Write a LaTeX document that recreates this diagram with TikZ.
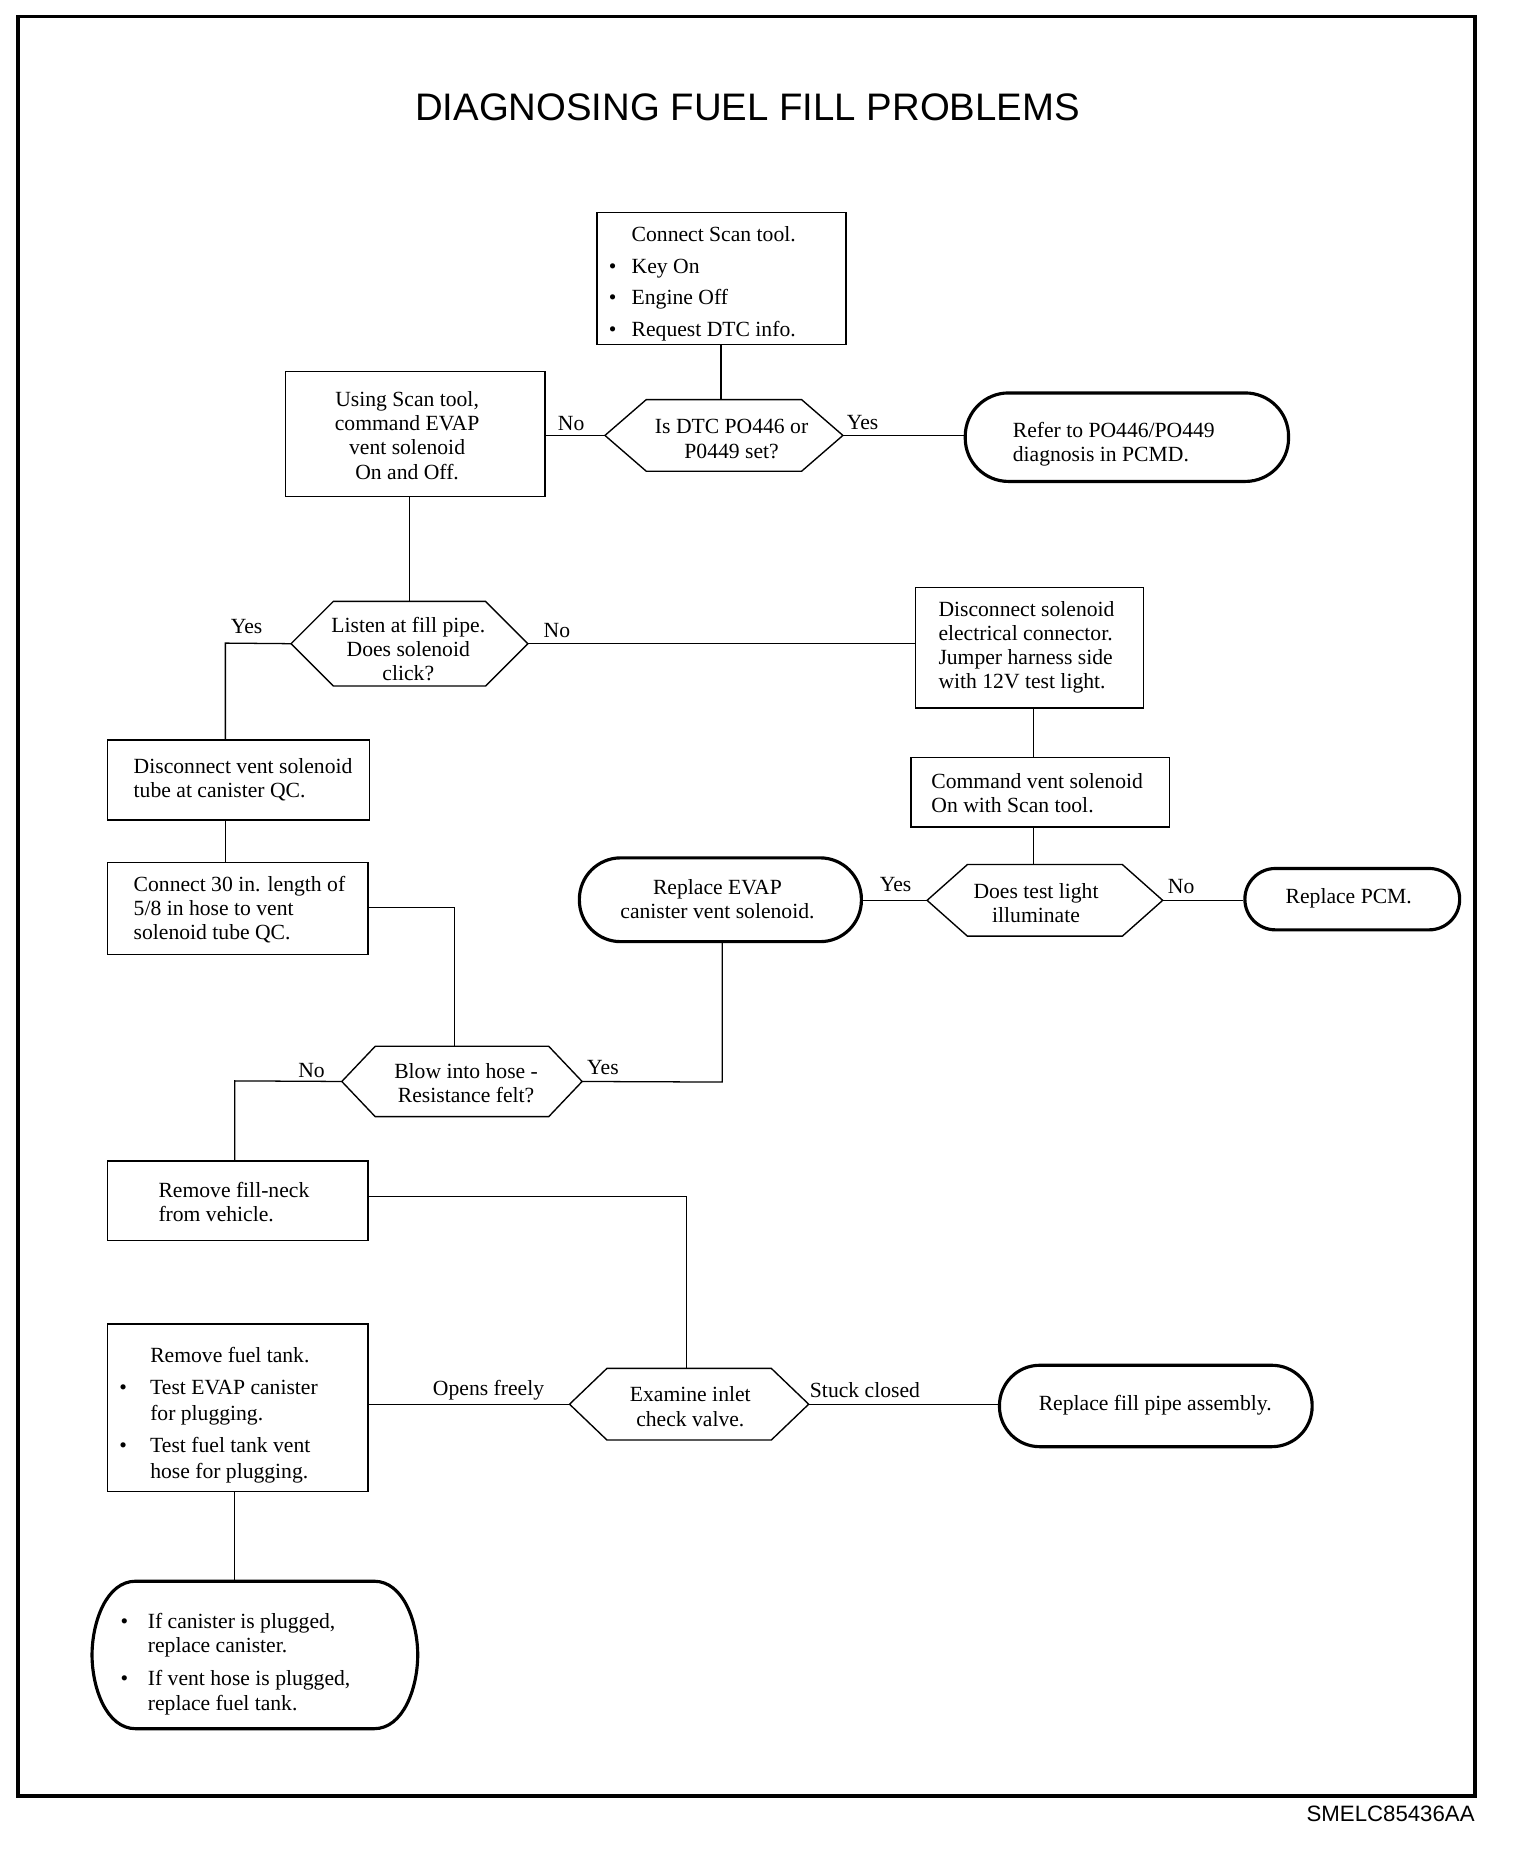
\documentclass[tikz,border=0pt]{standalone}
\usepackage{fontspec}
\setmainfont{Liberation Serif}
\newfontfamily\titlefont{Liberation Sans}
\usetikzlibrary{fit,calc}
\newcommand\myhex[2]{\draw[shapeline] (#1.west) -- ([xshift=#2]#1.north west) -- ([xshift=-#2]#1.north east) -- (#1.east) -- ([xshift=-#2]#1.south east) -- ([xshift=#2]#1.south west) -- cycle;}
\begin{document}
\begin{tikzpicture}[x=0.6pt,y=-0.6pt,
 box/.style={draw, line width=0.7pt, inner sep=0pt},
 rbox/.style={draw, line width=1.6pt, inner sep=0pt, rounded corners=#1},
 hexn/.style={inner sep=0pt},
 shapeline/.style={line width=0.7pt, line join=miter},
 conn/.style={line width=0.65pt},
 txt/.style={inner sep=0pt, font=\fontsize{11}{12.3}\selectfont, align=left},
 ctxt/.style={inner sep=0pt, font=\fontsize{11}{12.3}\selectfont, align=center},
 lbl/.style={inner sep=0pt, font=\fontsize{11}{12.3}\selectfont}]
\useasboundingbox (0,0) rectangle (1288,1569.5);
\draw[line width=2pt] (15,14) rectangle (1250,1522);

% title and footer
\node[inner sep=0pt, font=\titlefont\fontsize{19.5}{22}\selectfont] (title) at (633.5,91) {DIAGNOSING FUEL FILL PROBLEMS};
\node[inner sep=0pt, anchor=east, font=\titlefont\fontsize{11.3}{13}\selectfont] (footer) at (1250,1537) {SMELC85436AA};

% shapes
\node[box, fit={(506,180)(717,292)}] (n1) {};
\node[hexn, fit={(513,339)(714,399)}] (d1) {};
\myhex{d1}{21pt}
\node[rbox=22pt, fit={(818,333)(1092,408)}] (r1) {};
\node[box, fit={(242,315)(462,421)}] (n2) {};
\node[hexn, fit={(247,510)(447,581)}] (d2) {};
\myhex{d2}{21.5pt}
\node[box, fit={(776,498)(969,600)}] (n3) {};
\node[box, fit={(772,642)(991,701)}] (n4) {};
\node[hexn, fit={(786,733)(985,793)}] (d3) {};
\myhex{d3}{20.5pt}
\node[rbox=21pt, fit={(491,727)(730,798)}] (r2) {};
\node[rbox=15.5pt, fit={(1055,736)(1237,788)}] (r3) {};
\node[box, fit={(91,627)(313,695)}] (n5) {};
\node[box, fit={(91,731)(312,809)}] (n6) {};
\node[hexn, fit={(290,887)(493,946)}] (d4) {};
\myhex{d4}{17pt}
\node[box, fit={(91,984)(312,1051)}] (n7) {};
\node[hexn, fit={(483,1160)(685,1220)}] (d5) {};
\myhex{d5}{19pt}
\node[box, fit={(91,1122)(312,1264)}] (n8) {};
\node[rbox=20.5pt, fit={(847,1157)(1112,1226)}] (r4) {};
\node[hexn, fit={(78,1340)(354,1465)}] (r5) {};
\draw[line width=1.6pt] (115,1340) -- (317,1340) .. controls (342,1340) and (354,1375) .. (354,1402.5) .. controls (354,1430) and (342,1465) .. (317,1465) -- (115,1465) .. controls (90,1465) and (78,1430) .. (78,1402.5) .. controls (78,1375) and (90,1340) .. (115,1340) -- cycle;

% texts
\node[txt, anchor=west, font=\fontsize{11}{16.2}\selectfont] (t1) at (535,240.5) {Connect Scan tool.\\\llap{\textbullet\hspace{7.7pt}}Key On\\\llap{\textbullet\hspace{7.7pt}}Engine Off\\\llap{\textbullet\hspace{7.7pt}}Request DTC info.};
\node[ctxt] (td1) at (620,372) {Is DTC PO446 or\\P0449 set?};
\node[txt, anchor=west] (tr1) at (858,376.5) {Refer to PO446/PO449\\diagnosis in PCMD.};
\node[ctxt] (t2) at (345,369) {Using Scan tool,\\command EVAP\\vent solenoid\\On and Off.};
\node[ctxt] (td2) at (346,550) {Listen at fill pipe.\\Does solenoid\\click?};
\node[txt, anchor=west] (t3) at (795,548.5) {Disconnect solenoid\\electrical connector.\\Jumper harness side\\with 12V test light.};
\node[txt, anchor=west] (t4) at (789,672) {Command vent solenoid\\On with Scan tool.};
\node[ctxt] (td3) at (878,765) {Does test light\\illuminate};
\node[ctxt] (tr2) at (608,762) {Replace EVAP\\canister vent solenoid.};
\node[ctxt] (tr3) at (1143,761) {Replace PCM.};
\node[txt, anchor=west] (t5) at (113,660.5) {Disconnect vent solenoid\\tube at canister QC.};
\node[txt, anchor=west] (t6) at (113,771) {Connect 30 in. length of\\5/8 in hose to vent\\solenoid tube QC.};
\node[ctxt] (td4) at (395,918) {Blow into hose -\\Resistance felt?};
\node[txt, anchor=west] (t7) at (134,1018.5) {Remove fill-neck\\from vehicle.};
\node[ctxt] (td5) at (585,1192) {Examine inlet\\check valve.};
\node[txt, anchor=west, font=\fontsize{11}{13.2}\selectfont] (t8) at (127,1199.5) {Remove fuel tank.\\[3pt]\llap{\textbullet\hspace{11.8pt}}Test EVAP canister\\for plugging.\\[3pt]\llap{\textbullet\hspace{11.8pt}}Test fuel tank vent\\hose for plugging.};
\node[ctxt] (tr4) at (979,1191) {Replace fill pipe assembly.};
\node[txt, anchor=west, font=\fontsize{11}{12.6}\selectfont] (tr5) at (125,1410) {\llap{\textbullet\hspace{10pt}}If canister is plugged,\\replace canister.\\[4pt]\llap{\textbullet\hspace{10pt}}If vent hose is plugged,\\replace fuel tank.};

% bend coordinates
\coordinate (j1) at (191,545);
\coordinate (j2) at (385,769);
\coordinate (j3) at (612,917);
\coordinate (j4) at (199,916);
\coordinate (j5) at (582,1014);

% connectors
\draw[conn] (n1.south -| 611,0) -- (d1.north -| 611,0);
\draw[conn] (d1.east) -- (d1.east -| r1.west);
\draw[conn] (d1.west) -- (d1.west -| n2.east);
\draw[conn] (n2.south -| 347,0) -- (d2.north -| 347,0);
\draw[conn] (d2.west) -- (j1) -- (j1 |- n5.north);
\draw[conn] (d2.east) -- (d2.east -| n3.west);
\draw[conn] (n3.south -| 876,0) -- (n4.north -| 876,0);
\draw[conn] (n4.south -| 876,0) -- (d3.north -| 876,0);
\draw[conn] (d3.west) -- (d3.west -| r2.east);
\draw[conn] (d3.east) -- (d3.east -| r3.west);
\draw[conn] (n5.south -| 191,0) -- (n6.north -| 191,0);
\draw[conn] (n6.east |- j2) -- (j2) -- (j2 |- d4.north);
\draw[conn] (d4.east) -- (j3) -- (j3 |- r2.south);
\draw[conn] (d4.west) -- (j4) -- (j4 |- n7.north);
\draw[conn] (n7.east |- j5) -- (j5) -- (j5 |- d5.north);
\draw[conn] (d5.west) -- (d5.west -| n8.east);
\draw[conn] (d5.east) -- (d5.east -| r4.west);
\draw[conn] (n8.south -| 199,0) -- (r5.north -| 199,0);

% labels
\node[lbl] (l1) at (484,359) {No};
\node[lbl] (l2) at (731,358) {Yes};
\node[lbl] (l3) at (209,531) {Yes};
\node[lbl] (l4) at (472,534) {No};
\node[lbl] (l5) at (759,750) {Yes};
\node[lbl] (l6) at (1001,751) {No};
\node[lbl] (l7) at (264,907) {No};
\node[lbl] (l8) at (511,905) {Yes};
\node[lbl] (l9) at (414,1178) {Opens freely};
\node[lbl] (l10) at (733,1178) {Stuck closed};
\end{tikzpicture}
\end{document}
